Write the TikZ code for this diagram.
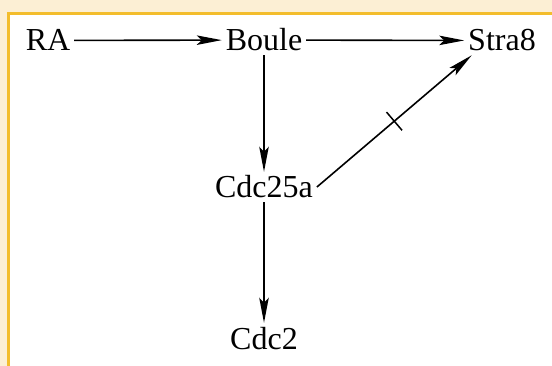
\documentclass[tikz,border=0pt]{standalone}
\usepackage{fontspec}
\setmainfont{Liberation Serif}
\usetikzlibrary{arrows.meta}
\definecolor{cream}{HTML}{FCEFD4}
\definecolor{gold}{HTML}{F3BD2C}

\begin{document}
\begin{tikzpicture}[x=1pt, y=-1pt,
  gene/.style={anchor=base, inner sep=4pt, outer sep=0pt, font=\fontsize{32}{38}\selectfont},
  act/.style={line width=1.6pt, -{Stealth[length=25pt, width=9.5pt, inset=5pt]}},
  tickmark/.style={midway, sloped, inner sep=0pt}]
  % canvas and framed panel
  \useasboundingbox (0,0) rectangle (552,366);
  \clip (0,0) rectangle (552,366);
  \fill[cream] (0,0) rectangle (552,366);
  \filldraw[fill=white, draw=gold, line width=3pt] (8.5,13.5) rectangle (620,420);

  % genes
  \node[gene] (RA)     at (48,51)   {RA};
  \node[gene] (Boule)  at (264,51)  {Boule};
  \node[gene] (Stra8)  at (502,51)  {Stra8};
  \node[gene] (Cdc25a) at (264,198) {Cdc25a};
  \node[gene] (Cdc2)   at (264,349) {Cdc2};

  % regulatory links
  \draw[act] (RA) -- (Boule);
  \draw[act] (Boule) -- (Stra8);
  \draw[act] (Boule) -- (Cdc25a);
  \draw[act] (Cdc25a) -- (Cdc2);
  \draw[act] (Cdc25a.east) -- node[tickmark]{\rule{1.5pt}{24pt}} (Stra8.206);
\end{tikzpicture}
\end{document}
